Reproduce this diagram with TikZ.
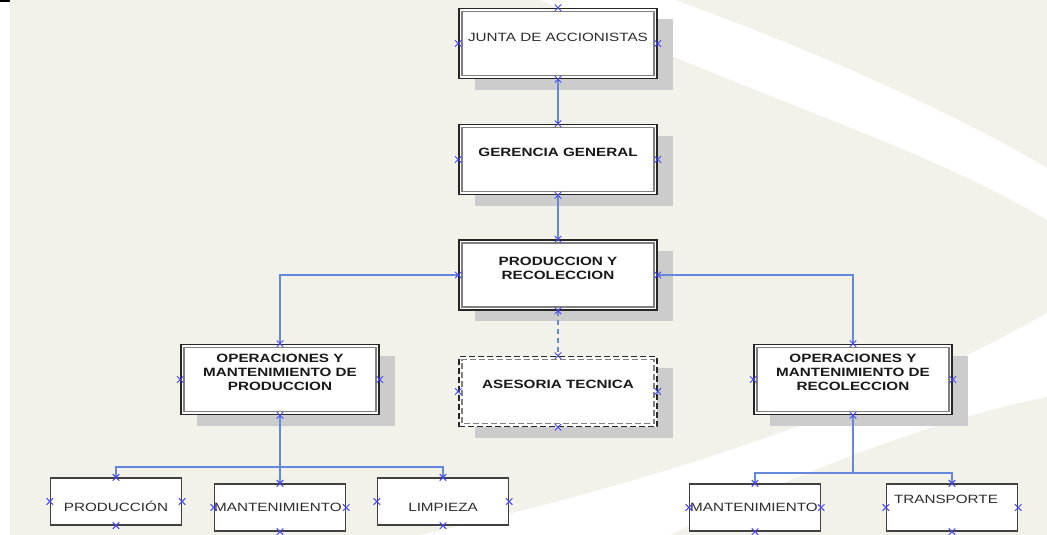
\documentclass[tikz,border=0pt]{standalone}
\usepackage{fontspec}
\newfontfamily\boxfont[FakeStretch=1.27]{Liberation Sans}
\usetikzlibrary{shadows,shapes.misc,calc}
\definecolor{bgcream}{RGB}{242,242,234}
\definecolor{shade}{RGB}{204,204,204}
\definecolor{linkblue}{RGB}{100,136,220}
\definecolor{markblue}{RGB}{70,70,245}
\definecolor{ink}{RGB}{45,45,45}
\tikzset{
  unitbox/.style={draw=black!85, line width=1.5pt, fill=white,
    minimum width=198pt, minimum height=70pt, inner sep=0pt,
    drop shadow={shadow xshift=16pt, shadow yshift=-11pt, fill=shade, opacity=1}},
  leafbox/.style={draw=black!75, line width=1.4pt, fill=white,
    minimum width=131pt, minimum height=47pt, inner sep=0pt},
  inner rule/.style={draw=black!50, line width=1.5pt},
  label text/.style={font=\boxfont\fontsize{12}{14}\selectfont, text=ink, inner sep=0pt},
  title text/.style={font=\boxfont\bfseries\fontsize{12}{14}\selectfont, text=black!90, inner sep=0pt},
  one line/.style={text height=8.6pt, text depth=0pt},
  wire/.style={draw=linkblue, line width=1.3pt},
  xmark/.style={cross out, draw=markblue, line width=1pt, minimum size=5.5pt, inner sep=0pt},
}
\begin{document}
\begin{tikzpicture}[x=1pt,y=-1pt]
\useasboundingbox (0,0) rectangle (1047,535);
% page and backdrop
\fill[white] (0,0) rectangle (1047,535);
\fill[bgcream] (10,0) rectangle (1047,535);
\fill[black] (0,0) rectangle (10,2);
% white swoosh bands
\fill[white] (675,0) .. controls (800,45) and (950,110) .. (1047,168)
  -- (1047,220) .. controls (930,150) and (780,105) .. (600,25) -- (540,0) -- cycle;
\fill[white] (420,535) .. controls (620,490) and (860,420) .. (1047,313)
  -- (1047,397) .. controls (930,420) and (780,480) .. (670,535) -- cycle;

% main units
\node[unitbox] (junta) at (558,43.5) {};
\node[unitbox] (gerencia) at (558,159.5) {};
\node[unitbox] (prodrec) at (558,275) {};
\node[unitbox, dash pattern=on 6pt off 3pt] (asesoria) at (558,391.5) {};
\node[unitbox] (opprod) at (280,379.5) {};
\node[unitbox] (oprec) at (853,379.5) {};

% leaf units
\node[leafbox] (produccion) at (116,501.5) {};
\node[leafbox] (mantl) at (280,507.5) {};
\node[leafbox] (limpieza) at (443,501.5) {};
\node[leafbox] (mantr) at (755,507.5) {};
\node[leafbox] (transporte) at (952,507.5) {};

% inner rules of the double frames
\foreach \n in {junta,gerencia,prodrec,opprod,oprec}
  \draw[inner rule] ([shift={(3.8,-3.8)}]\n.south west) rectangle ([shift={(-3.8,3.8)}]\n.north east);
\draw[inner rule, dash pattern=on 6pt off 3pt] ([shift={(3.8,-3.8)}]asesoria.south west) rectangle ([shift={(-3.8,3.8)}]asesoria.north east);

% connectors
\draw[wire] (junta.south) -- (gerencia.north);
\draw[wire] (gerencia.south) -- (prodrec.north);
\draw[wire] (prodrec.west) -| (opprod.north);
\draw[wire] (prodrec.east) -| (oprec.north);
\draw[wire, dash pattern=on 5pt off 4pt] (prodrec.south) -- (asesoria.north);
\coordinate (busl) at (280,467);
\draw[wire] (opprod.south) -- (mantl.north);
\draw[wire] (produccion.north) |- (busl) -| (limpieza.north);
\coordinate (busr) at (853,473);
\draw[wire] (oprec.south) -- (busr);
\draw[wire] (mantr.north) |- (busr) -| (transporte.north);

% labels
\node[label text, one line] (junta-t) at (558,37) {JUNTA DE ACCIONISTAS};
\node[title text, one line] (gerencia-t) at (558,152) {GERENCIA GENERAL};
\node[title text, align=center] (prodrec-t) at (558,268.5) {PRODUCCION Y\\RECOLECCION};
\node[title text, one line] (asesoria-t) at (558,384) {ASESORIA TECNICA};
\node[title text, align=center] (opprod-t) at (280,372) {OPERACIONES Y\\MANTENIMIENTO DE\\PRODUCCION};
\node[title text, align=center] (oprec-t) at (853,372) {OPERACIONES Y\\MANTENIMIENTO DE\\RECOLECCION};
\node[label text, one line] (produccion-t) at (116,507) {PRODUCCIÓN};
\node[label text, one line] (mantl-t) at (278,507) {MANTENIMIENTO};
\node[label text, one line] (limpieza-t) at (443,507) {LIMPIEZA};
\node[label text, one line] (mantr-t) at (754,507) {MANTENIMIENTO};
\node[label text, one line] (transporte-t) at (946,499) {TRANSPORTE};

% connection point markers
\foreach \n in {junta,gerencia,prodrec,asesoria,opprod,oprec,produccion,mantl,limpieza,mantr,transporte}
  \foreach \a in {north,south,east,west}
    \node[xmark] (\n-\a) at (\n.\a) {};
\end{tikzpicture}
\end{document}
